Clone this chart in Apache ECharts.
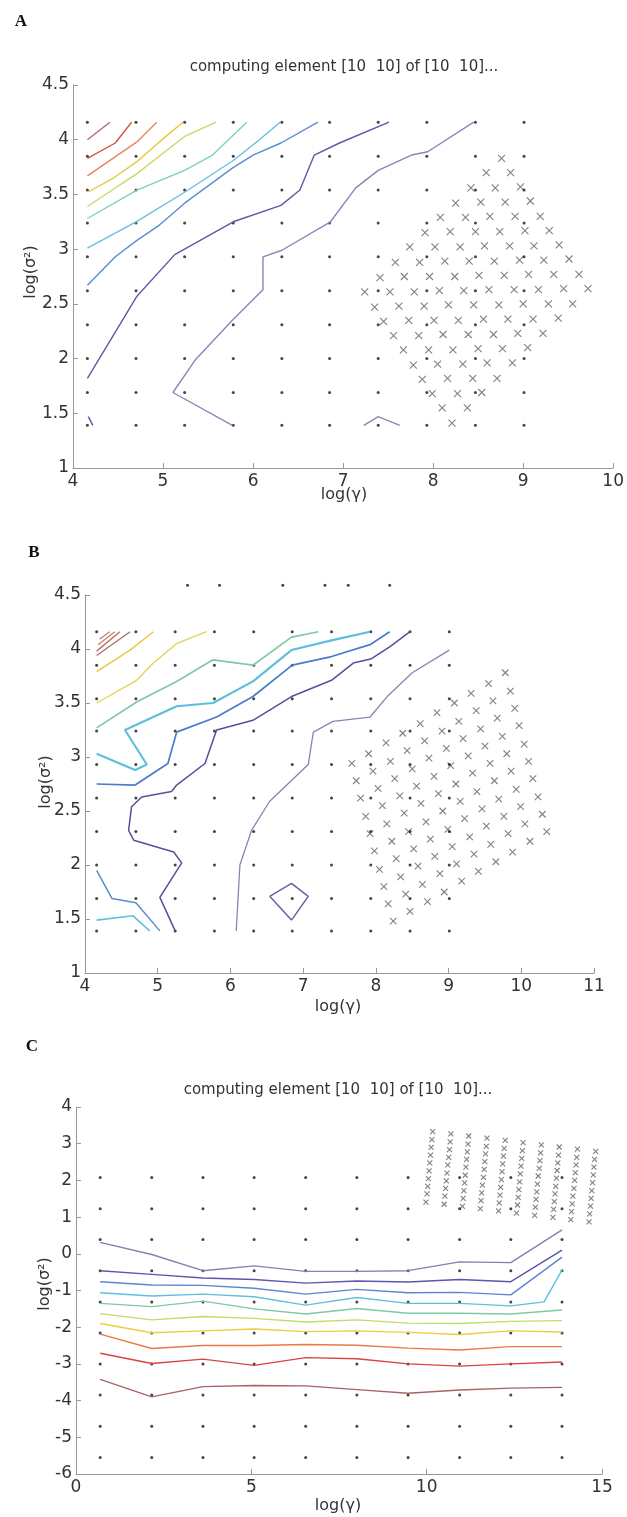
<!DOCTYPE html>
<html><head><meta charset="utf-8">
<script src="https://cdn.jsdelivr.net/npm/echarts/dist/echarts.min.js"></script>
<style>html,body{margin:0;padding:0;background:#fff}#c{width:627px;height:1517px}</style>
</head><body><div id="c"></div>
<script>
// ---------- data ----------
const titleText = 'computing element [10  10] of [10  10]...';
const xName = 'log(\u03b3)';
const yName = 'log(\u03c3\u00b2)';

// grid search points (log gamma, log sigma^2)
const gammaAB = [4.16, 4.70, 5.24, 5.78, 6.32, 6.85, 7.39, 7.93, 8.47, 9.01];
const sigmaAB = [1.39, 1.69, 2.00, 2.31, 2.62, 2.93, 3.24, 3.54, 3.85, 4.16];
const gammaC = [0.69, 2.16, 3.62, 5.08, 6.55, 8.01, 9.47, 10.94, 12.40, 13.86];
const sigmaC = [-5.55, -4.70, -3.85, -3.00, -2.16, -1.31, -0.46, 0.39, 1.23, 2.08];
const topDotsBx = [5.41, 5.85, 6.72, 7.30, 7.62, 8.19];
const topDotsBy = 4.59;

// refined search points (crosses)
const crossA = [
 [[7.24,2.61],[7.35,2.47],[7.45,2.34],[7.56,2.21],[7.67,2.08],[7.78,1.94],[7.88,1.81],[7.99,1.68],[8.10,1.55],[8.21,1.41]],
 [[7.41,2.74],[7.52,2.61],[7.62,2.48],[7.73,2.35],[7.84,2.21],[7.95,2.08],[8.05,1.95],[8.16,1.82],[8.27,1.68],[8.38,1.55]],
 [[7.58,2.88],[7.68,2.75],[7.79,2.61],[7.90,2.48],[8.01,2.35],[8.11,2.22],[8.22,2.08],[8.33,1.95],[8.44,1.82],[8.54,1.69]],
 [[7.74,3.02],[7.85,2.88],[7.96,2.75],[8.07,2.62],[8.17,2.49],[8.28,2.35],[8.39,2.22],[8.50,2.09],[8.60,1.96],[8.71,1.82]],
 [[7.91,3.15],[8.02,3.02],[8.13,2.89],[8.24,2.75],[8.34,2.62],[8.45,2.49],[8.56,2.36],[8.67,2.22],[8.77,2.09],[8.88,1.96]],
 [[8.08,3.29],[8.19,3.16],[8.30,3.02],[8.40,2.89],[8.51,2.76],[8.62,2.63],[8.73,2.49],[8.83,2.36],[8.94,2.23],[9.05,2.10]],
 [[8.25,3.42],[8.36,3.29],[8.47,3.16],[8.57,3.03],[8.68,2.89],[8.79,2.76],[8.90,2.63],[9.00,2.50],[9.11,2.36],[9.22,2.23]],
 [[8.42,3.56],[8.53,3.43],[8.63,3.30],[8.74,3.16],[8.85,3.03],[8.96,2.90],[9.06,2.77],[9.17,2.63],[9.28,2.50],[9.39,2.37]],
 [[8.59,3.70],[8.69,3.56],[8.80,3.43],[8.91,3.30],[9.02,3.17],[9.12,3.03],[9.23,2.90],[9.34,2.77],[9.45,2.64],[9.55,2.50]],
 [[8.76,3.83],[8.86,3.70],[8.97,3.57],[9.08,3.44],[9.19,3.30],[9.29,3.17],[9.40,3.04],[9.51,2.91],[9.62,2.77],[9.72,2.64]]
];
const crossB = [
 [[7.67,2.94],[7.73,2.78],[7.79,2.62],[7.86,2.45],[7.92,2.29],[7.98,2.13],[8.05,1.96],[8.11,1.80],[8.17,1.64],[8.24,1.48]],
 [[7.90,3.03],[7.96,2.87],[8.03,2.71],[8.09,2.55],[8.15,2.38],[8.22,2.22],[8.28,2.06],[8.34,1.89],[8.41,1.73],[8.47,1.57]],
 [[8.14,3.13],[8.20,2.96],[8.26,2.80],[8.33,2.64],[8.39,2.48],[8.45,2.31],[8.52,2.15],[8.58,1.99],[8.64,1.82],[8.71,1.66]],
 [[8.37,3.22],[8.43,3.06],[8.50,2.89],[8.56,2.73],[8.62,2.57],[8.69,2.40],[8.75,2.24],[8.81,2.08],[8.88,1.92],[8.94,1.75]],
 [[8.61,3.31],[8.67,3.15],[8.73,2.99],[8.80,2.82],[8.86,2.66],[8.92,2.50],[8.99,2.33],[9.05,2.17],[9.11,2.01],[9.18,1.85]],
 [[8.84,3.41],[8.91,3.24],[8.97,3.08],[9.03,2.92],[9.10,2.75],[9.16,2.59],[9.22,2.43],[9.29,2.26],[9.35,2.10],[9.41,1.94]],
 [[9.08,3.50],[9.14,3.33],[9.20,3.17],[9.27,3.01],[9.33,2.85],[9.39,2.68],[9.46,2.52],[9.52,2.36],[9.58,2.19],[9.65,2.03]],
 [[9.31,3.59],[9.38,3.43],[9.44,3.26],[9.50,3.10],[9.57,2.94],[9.63,2.78],[9.69,2.61],[9.76,2.45],[9.82,2.29],[9.88,2.12]],
 [[9.55,3.68],[9.61,3.52],[9.67,3.36],[9.74,3.19],[9.80,3.03],[9.86,2.87],[9.93,2.70],[9.99,2.54],[10.05,2.38],[10.12,2.22]],
 [[9.78,3.78],[9.85,3.61],[9.91,3.45],[9.97,3.29],[10.04,3.12],[10.10,2.96],[10.16,2.80],[10.23,2.63],[10.29,2.47],[10.35,2.31]]
];
const crossC = [
 [[10.17,3.33],[10.15,3.11],[10.13,2.90],[10.11,2.69],[10.09,2.48],[10.07,2.26],[10.05,2.05],[10.03,1.84],[10.01,1.63],[9.98,1.41]],
 [[10.69,3.27],[10.67,3.05],[10.65,2.84],[10.63,2.63],[10.60,2.42],[10.58,2.20],[10.56,1.99],[10.54,1.78],[10.52,1.57],[10.50,1.35]],
 [[11.20,3.21],[11.18,2.99],[11.16,2.78],[11.14,2.57],[11.12,2.36],[11.10,2.14],[11.08,1.93],[11.06,1.72],[11.04,1.51],[11.02,1.29]],
 [[11.72,3.15],[11.70,2.93],[11.68,2.72],[11.66,2.51],[11.64,2.30],[11.62,2.08],[11.59,1.87],[11.57,1.66],[11.55,1.45],[11.53,1.23]],
 [[12.24,3.09],[12.21,2.87],[12.19,2.66],[12.17,2.45],[12.15,2.24],[12.13,2.02],[12.11,1.81],[12.09,1.60],[12.07,1.39],[12.05,1.17]],
 [[12.75,3.03],[12.73,2.81],[12.71,2.60],[12.69,2.39],[12.67,2.18],[12.65,1.96],[12.63,1.75],[12.61,1.54],[12.59,1.33],[12.56,1.11]],
 [[13.27,2.97],[13.25,2.75],[13.23,2.54],[13.21,2.33],[13.18,2.12],[13.16,1.90],[13.14,1.69],[13.12,1.48],[13.10,1.27],[13.08,1.05]],
 [[13.78,2.91],[13.76,2.69],[13.74,2.48],[13.72,2.27],[13.70,2.06],[13.68,1.84],[13.66,1.63],[13.64,1.42],[13.62,1.21],[13.60,0.99]],
 [[14.30,2.85],[14.28,2.63],[14.26,2.42],[14.24,2.21],[14.22,2.00],[14.20,1.78],[14.17,1.57],[14.15,1.36],[14.13,1.15],[14.11,0.93]],
 [[14.82,2.79],[14.79,2.57],[14.77,2.36],[14.75,2.15],[14.73,1.94],[14.71,1.72],[14.69,1.51],[14.67,1.30],[14.65,1.09],[14.63,0.87]]
];

// contour lines, panel A
const contA1 = [[4.16,4.00],[4.41,4.16]];
const contA2 = [[4.16,3.83],[4.47,3.97],[4.65,4.16]];
const contA3 = [[4.16,3.67],[4.48,3.85],[4.71,3.98],[4.93,4.16]];
const contA4 = [[4.16,3.52],[4.45,3.65],[4.71,3.80],[4.96,3.98],[5.22,4.16]];
const contA5 = [[4.16,3.39],[4.71,3.69],[5.24,4.03],[5.59,4.16]];
const contA6 = [[4.16,3.28],[4.71,3.54],[5.24,3.72],[5.55,3.86],[5.93,4.16]];
const contA7 = [[4.16,3.01],[4.70,3.25],[5.24,3.52],[5.78,3.81],[6.07,4.00],[6.30,4.16]];
const contA8 = [[4.16,2.67],[4.47,2.93],[4.71,3.08],[4.96,3.22],[5.24,3.42],[5.77,3.74],[6.00,3.86],[6.31,3.97],[6.72,4.16]];
const contA9 = [[4.16,1.82],[4.52,2.31],[4.71,2.57],[5.13,2.95],[5.78,3.25],[6.31,3.40],[6.52,3.54],[6.68,3.86],[6.96,3.97],[7.51,4.16]];
const contA10 = [[5.77,1.39],[5.11,1.69],[5.36,1.99],[5.77,2.35],[6.11,2.63],[6.11,2.93],[6.32,2.99],[6.86,3.25],[7.14,3.56],[7.39,3.72],[7.76,3.86],[7.94,3.89],[8.45,4.16]];
const contA11 = [[7.23,1.39],[7.39,1.47],[7.63,1.39]];
const contA12 = [[4.17,1.47],[4.22,1.39]];

// contour lines, panel B
const contB1 = [[4.16,3.94],[4.62,4.16]];
const contB2 = [[4.16,3.98],[4.48,4.16]];
const contB3 = [[4.18,4.04],[4.41,4.16]];
const contB4 = [[4.20,4.09],[4.34,4.16]];
const contB5 = [[4.16,3.79],[4.62,3.99],[4.94,4.16]];
const contB6 = [[4.16,3.50],[4.71,3.71],[4.94,3.87],[5.26,4.05],[5.67,4.16]];
const contB7 = [[4.16,3.27],[4.71,3.51],[5.26,3.70],[5.76,3.90],[6.31,3.85],[6.84,4.11],[7.21,4.16]];
const contB8 = [[4.16,3.03],[4.69,2.88],[4.85,2.93],[4.55,3.25],[5.26,3.47],[5.76,3.50],[6.31,3.70],[6.84,3.99],[7.39,4.08],[7.92,4.16]];
const contB9 = [[4.16,2.75],[4.69,2.74],[5.14,2.94],[5.26,3.23],[5.81,3.37],[6.31,3.56],[6.85,3.85],[7.39,3.93],[7.92,4.04],[8.19,4.16]];
const contB10 = [[4.16,1.95],[4.37,1.69],[4.70,1.65],[5.03,1.39]];
const contB11 = [[4.16,1.49],[4.66,1.53],[4.89,1.39]];
const contB12 = [[5.24,1.39],[5.03,1.70],[5.33,2.02],[5.22,2.12],[4.67,2.23],[4.60,2.32],[4.64,2.54],[4.78,2.63],[5.19,2.68],[5.26,2.74],[5.65,2.94],[5.81,3.25],[6.31,3.34],[6.84,3.56],[7.39,3.71],[7.69,3.87],[7.94,3.91],[8.19,4.02],[8.47,4.16]];
const contB13 = [[6.08,1.39],[6.13,2.00],[6.29,2.32],[6.54,2.59],[7.07,2.93],[7.14,3.23],[7.41,3.33],[7.92,3.37],[8.17,3.57],[8.50,3.78],[9.01,3.99]];
const contB14 = [[6.54,1.71],[6.84,1.83],[7.07,1.71],[6.84,1.49],[6.54,1.71]];

// contour lines, panel C (levels at the grid columns gammaC)
const contC1 = [0.31, -0.02, -0.46, -0.33, -0.48, -0.48, -0.46, -0.22, -0.24, 0.65];
const contC2 = [-0.46, -0.56, -0.66, -0.70, -0.80, -0.74, -0.77, -0.70, -0.76, 0.10];
const contC3 = [-0.76, -0.85, -0.86, -0.94, -1.10, -0.97, -1.06, -1.05, -1.12, -0.09];
const contC4 = [[0.69,-1.06],[2.16,-1.15],[3.62,-1.10],[5.08,-1.17],[6.55,-1.40],[8.01,-1.19],[9.47,-1.35],[10.94,-1.35],[12.40,-1.42],[13.35,-1.31],[13.86,-0.44]];
const contC5 = [-1.35, -1.44, -1.29, -1.50, -1.64, -1.49, -1.62, -1.62, -1.64, -1.53];
const contC6 = [-1.63, -1.80, -1.71, -1.76, -1.86, -1.80, -1.89, -1.90, -1.84, -1.82];
const contC7 = [-1.90, -2.15, -2.10, -2.05, -2.12, -2.10, -2.14, -2.20, -2.10, -2.13];
const contC8 = [-2.19, -2.58, -2.50, -2.50, -2.47, -2.49, -2.57, -2.62, -2.53, -2.53];
const contC9 = [-2.71, -2.99, -2.87, -3.04, -2.83, -2.86, -3.00, -3.06, -3.00, -2.95];
const contC10 = [-3.42, -3.90, -3.62, -3.59, -3.60, -3.70, -3.80, -3.71, -3.66, -3.64];

// ---------- chart ----------
const FONT = '"DejaVu Sans", sans-serif';
const AX = '#9c9696';
const chart = echarts.init(document.getElementById('c'), null, {renderer: 'canvas'});

function xAx(gi, min, max, interval) {
  return {type: 'value', gridIndex: gi, min: min, max: max, interval: interval,
    axisLine: {onZero: false, lineStyle: {color: AX, width: 1}},
    axisTick: {inside: true, length: 5, lineStyle: {color: AX}},
    splitLine: {show: false},
    axisLabel: {color: '#333', fontSize: 17, fontFamily: FONT, margin: 5}};
}
function yAx(gi, min, max, interval) {
  return {type: 'value', gridIndex: gi, min: min, max: max, interval: interval,
    axisLine: {onZero: false, lineStyle: {color: AX, width: 1}},
    axisTick: {inside: true, length: 5, lineStyle: {color: AX}},
    splitLine: {show: false},
    axisLabel: {color: '#333', fontSize: 17, fontFamily: FONT, margin: 4}};
}
function line(gi, pts, color, w) {
  return {type: 'line', xAxisIndex: gi, yAxisIndex: gi, data: pts, symbol: 'none', showSymbol: false,
    lineStyle: {color: color, width: w || 1.4}, silent: true, z: 4};
}
function dotsOf(gx, gy) {
  const out = [];
  gy.forEach(function (y) { gx.forEach(function (x) { out.push([x, y]); }); });
  return out;
}
function dots(gi, pts, clip) {
  return {type: 'scatter', xAxisIndex: gi, yAxisIndex: gi, data: pts, symbol: 'circle', symbolSize: 3,
    itemStyle: {color: '#151515'}, silent: true, clip: clip !== false, z: 3};
}
const XPATH = 'path://M0,0L10,10M10,0L0,10';
function crosses(gi, rows, size) {
  const pts = [];
  rows.forEach(function (r) { r.forEach(function (p) { pts.push(p); }); });
  return {type: 'scatter', xAxisIndex: gi, yAxisIndex: gi, data: pts, symbol: XPATH, symbolSize: size,
    itemStyle: {color: 'rgba(0,0,0,0)', borderColor: 'rgba(95,75,75,0.9)', borderWidth: 1.1}, silent: true, z: 2};
}
function colLine(ys) { return ys.map(function (y, i) { return [gammaC[i], y]; }); }

const COL = {brown: '#a8706c', red: '#d8523e', orange: '#e9865c', yellow: '#e6c940', ygreen: '#cbd86a',
  aqua: '#7fcfbe', sky: '#68bfe0', blue: '#5a8cd4', purple: '#6456a6', lav: '#9282b6'};

const series = [
  dots(0, dotsOf(gammaAB, sigmaAB)),
  crosses(0, crossA, 7),
  line(0, contA1, COL.brown), line(0, contA2, COL.red), line(0, contA3, COL.orange),
  line(0, contA4, COL.yellow), line(0, contA5, COL.ygreen), line(0, contA6, COL.aqua),
  line(0, contA7, COL.sky), line(0, contA8, COL.blue), line(0, contA9, COL.purple),
  line(0, contA10, COL.lav), line(0, contA11, COL.lav), line(0, contA12, COL.purple),

  dots(1, dotsOf(gammaAB, sigmaAB)),
  dots(1, topDotsBx.map(function (x) { return [x, topDotsBy]; }), false),
  crosses(1, crossB, 6.5),
  line(1, contB1, COL.brown), line(1, contB2, '#c4705e'), line(1, contB3, '#cc8470'), line(1, contB4, '#b88a80'),
  line(1, contB5, COL.yellow), line(1, contB6, '#e2d45a'), line(1, contB7, '#80c8aa', 1.7),
  line(1, contB8, '#5cbedc', 2.1), line(1, contB9, '#4a7cc8', 1.7), line(1, contB10, '#5a8cd0', 1.5),
  line(1, contB11, '#62c2dc', 1.7), line(1, contB12, '#5a4c9e', 1.5), line(1, contB13, '#8e80b4', 1.3),
  line(1, contB14, '#6e5ea6', 1.5),

  dots(2, dotsOf(gammaC, sigmaC)),
  crosses(2, crossC, 5),
  line(2, colLine(contC1), '#8c7cb2'), line(2, colLine(contC2), '#5c56ac'), line(2, colLine(contC3), '#5a86d0'),
  line(2, contC4, '#5ec0e0'), line(2, colLine(contC5), '#7ccaa4'), line(2, colLine(contC6), '#c8da62'),
  line(2, colLine(contC7), '#ebcf40'), line(2, colLine(contC8), '#ea7a44'), line(2, colLine(contC9), '#d84440'),
  line(2, colLine(contC10), '#a86464')
];

function txt(x, y, text, font, fill, rot) {
  return {type: 'text', x: x, y: y, rotation: rot || 0, silent: true,
    style: {text: text, font: font, fill: fill || '#333', align: 'center', verticalAlign: 'middle'}};
}
const LBL = 'bold 17px "Liberation Serif", serif';
const TFONT = '15px "DejaVu Sans", sans-serif';
const NFONT = '16px "DejaVu Sans", sans-serif';

chart.setOption({
  animation: false,
  backgroundColor: '#fff',
  grid: [
    {left: 73, top: 85, width: 541, height: 383},
    {left: 85, top: 595, width: 509, height: 378},
    {left: 76, top: 1107, width: 526, height: 367}
  ],
  xAxis: [xAx(0, 4, 10, 1), xAx(1, 4, 11, 1), xAx(2, 0, 15, 5)],
  yAxis: [yAx(0, 1, 4.5, 0.5), yAx(1, 1, 4.5, 0.5), yAx(2, -6, 4, 1)],
  series: series,
  graphic: [
    txt(21, 22, 'A', LBL, '#111'),
    txt(34, 553, 'B', LBL, '#111'),
    txt(32, 1047, 'C', LBL, '#111'),
    txt(344, 67, titleText, TFONT),
    txt(338, 1090, titleText, TFONT),
    txt(344, 495, xName, NFONT),
    txt(338, 1007, xName, NFONT),
    txt(338, 1506, xName, NFONT),
    txt(31, 272, yName, NFONT, '#333', Math.PI / 2),
    txt(46, 782, yName, NFONT, '#333', Math.PI / 2),
    txt(45, 1284, yName, NFONT, '#333', Math.PI / 2)
  ]
});
</script></body></html>
